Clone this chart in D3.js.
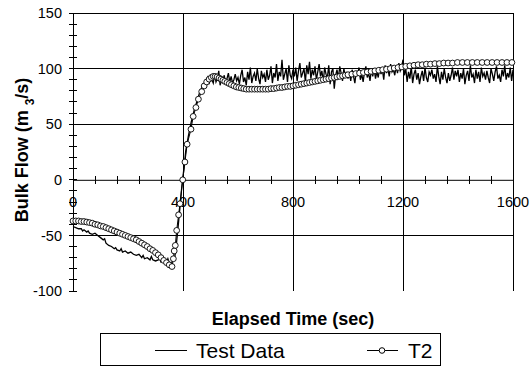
<!DOCTYPE html>
<html><head><meta charset="utf-8">
<script src="https://cdn.jsdelivr.net/npm/d3@7"></script>
<style>body{margin:0;background:#fff}svg{display:block}text{font-family:Arial,"Liberation Sans",sans-serif}</style>
</head><body><div id="chart"></div>
<script>
// ---- data ----
const xTicks = [0, 400, 800, 1200, 1600];
const yTicks = [-100, -50, 0, 50, 100, 150];
const seriesNames = ["Test Data", "T2"];

// Test Data: early part as [time, flow]
const testEarly = [[0,-42],[10,-43],[20,-44],[30,-44],[35,-46],[40,-45],[50,-47],[55,-46],[60,-48],[70,-49],[80,-48],[90,-50],[100,-52],[110,-54],[115,-53],[120,-57],[130,-59],[140,-60],[150,-62],[155,-61],[160,-63],[170,-64],[175,-62],[180,-65],[190,-64],[200,-66],[210,-65],[220,-67],[230,-68],[240,-67],[250,-70],[255,-68],[260,-71],[270,-70],[280,-72],[285,-69],[290,-72],[300,-73],[310,-72],[315,-70],[320,-74],[330,-73],[340,-74],[345,-71],[350,-75],[360,-74],[365,-72],[370,-70],[375,-60],[380,-48],[385,-35],[390,-22],[395,-8],[400,3],[405,14],[410,26],[420,40],[430,52],[440,62],[450,70],[460,78],[470,84],[480,88]];
// Test Data: noisy part, one value every 5 s starting at 485 s
const testNoisyStart = 485, testNoisyStep = 5;
const testNoisy = [
89,92,86,93,90,87,95,88,91,98,85,92,89,94,86,91,96,88,93,87,90,95,89,92,
86,94,99,88,92,85,97,90,101,87,93,96,89,100,91,86,98,92,95,88,
99,90,94,102,87,96,92,104,89,97,93,108,90,95,100,88,103,94,91,99,
93,101,89,98,105,92,96,100,88,103,95,106,91,99,94,102,90,97,104,93,
98,88,101,95,92,103,86,97,100,82,94,99,91,102,96,89,100,93,97,91,
96,89,99,93,87,98,94,101,90,95,88,97,102,92,96,89,99,93,100,91,
97,92,101,95,99,90,103,96,100,93,104,97,99,94,102,96,105,98,101,108,
94,100,88,97,91,102,87,95,99,90,96,86,93,98,89,101,92,88,97,94,
99,91,95,88,102,93,86,97,90,100,92,87,96,89,94,101,90,98,93,99,
88,96,91,100,86,94,98,89,103,92,95,87,99,91,97,88,101,93,96,90,
98,92,87,100,95,89,97,102,91,94,88,99,93,103,90,96,92,101,89,99];

// T2 simulation: [time, flow]
const t2 = [[0,-37],[10,-37],[20,-37],[30,-37.5],[40,-37.5],[50,-38],[60,-38.5],[70,-39],[80,-40],[90,-40.5],[100,-41.5],[110,-42],[120,-43],[130,-44],[140,-45],[150,-46],[160,-47],[170,-48],[180,-49],[190,-50],[200,-51],[210,-52],[220,-53],[230,-54],[240,-55.5],[250,-57],[260,-58.5],[270,-60],[280,-62],[290,-63.5],[300,-65.5],[310,-67.5],[320,-70],[330,-72.5],[340,-74.5],[350,-76.5],[360,-78],
[365,-71],[368,-64],[372,-59],[377,-45.5],[384,-31.5],[389,-21.5],[399,0],[407,16],[415,32],[429,45.5],[437,57],[447,65],[456,72.5],[468,79.3],[477,84.4],[486,88],
[495,90.5],[503,92],[510,93],[517,93],[524,92.5],[531,91.5],[538,90.5],[545,89.5],[552,88.5],[560,87.5],[568,86.5],[576,85.5],[585,84.5],[594,83.5],[603,83],[612,82.5],[621,82],[630,81.5],[640,81.5],[650,81.5],[660,81.5],[670,81.5],[680,81.5],[690,81.5],[700,81.5],[710,81.5],[720,82],[730,82],[740,82.5],[750,83],[760,83],[770,83.5],[780,84],[790,84],[800,84.5],[810,85],[820,85.5],[830,86],[840,86.5],[850,87],[860,87.5],[870,88],[880,88.5],[890,89],[900,89.5],[910,90],[920,90.5],[930,91],[940,91.5],[950,92],[960,92.5],[970,93],[980,93.5],[990,94],[1000,94.5],
[1014,95],[1028,95.5],[1042,96],[1056,96.5],[1070,97],[1084,97.5],[1098,98],[1112,98.5],[1126,99],[1140,99.5],[1154,100],[1168,100.5],[1182,101],[1196,101.5],[1210,102],[1225,102.5],[1240,103],[1255,103.5],[1270,103.5],[1285,104],[1300,104],[1316,104.5],[1332,104.5],[1348,105],[1364,105],[1380,105],[1398,105.5],[1416,105.5],[1434,105.5],[1452,105.5],[1470,105.5],[1488,105.5],[1506,105.5],[1524,105.5],[1542,105.5],[1560,105.5],[1578,105.5],[1596,105.5]];

// ---- chart ----
const W = 532, H = 368;
const svg = d3.select("#chart").append("svg").attr("width", W).attr("height", H);
const x = d3.scaleLinear().domain([0, 1600]).range([73, 513]);
const y = d3.scaleLinear().domain([-100, 150]).range([291, 13]);

const testData = testEarly.concat(testNoisy.map((v, i) => [testNoisyStart + i * testNoisyStep, v]));

// gridlines
const g = svg.append("g").attr("stroke", "#000").attr("stroke-width", 1).attr("shape-rendering", "crispEdges");
yTicks.filter(v => v !== 0 && v !== -100).forEach(v => {
  g.append("line").attr("x1", x(0)).attr("x2", x(1600)).attr("y1", y(v)).attr("y2", y(v));
});
xTicks.filter(v => v !== 0).forEach(v => {
  g.append("line").attr("x1", x(v)).attr("x2", x(v)).attr("y1", y(150)).attr("y2", y(-100));
});

// y axis with minor ticks crossing
const yAxisG = svg.append("g").attr("transform", `translate(${x(0)},0)`)
  .call(d3.axisLeft(y).tickValues(d3.range(-100, 151, 10)).tickSize(0).tickFormat(""));
yAxisG.select(".domain").attr("stroke", "#000");
const yMinor = svg.append("g").attr("stroke", "#000").attr("shape-rendering", "crispEdges");
d3.range(-100, 151, 10).forEach(v => {
  yMinor.append("line").attr("x1", x(0) - 4).attr("x2", x(0) + 4).attr("y1", y(v)).attr("y2", y(v));
});
svg.append("g").selectAll("text").data(yTicks).join("text")
  .attr("x", 62).attr("y", d => y(d)).attr("dy", "0.36em").attr("text-anchor", "end")
  .attr("font-size", 14.5).text(d => d);

// x axis at y = 0
const xAxisG = svg.append("g").attr("transform", `translate(0,${y(0)})`)
  .call(d3.axisBottom(x).tickValues(d3.range(0, 1601, 80)).tickSize(0).tickFormat(""));
xAxisG.select(".domain").attr("stroke", "#000");
const xMinor = svg.append("g").attr("stroke", "#000").attr("shape-rendering", "crispEdges");
d3.range(0, 1601, 80).forEach(v => {
  xMinor.append("line").attr("x1", x(v)).attr("x2", x(v)).attr("y1", y(0) - 4).attr("y2", y(0) + 4);
});
svg.append("g").selectAll("text").data(xTicks).join("text")
  .attr("x", d => x(d)).attr("y", 207).attr("text-anchor", "middle")
  .attr("font-size", 14.5).text(d => d);

// series
const line = d3.line().x(d => x(d[0])).y(d => y(d[1]));
svg.append("path").datum(testData).attr("d", line).attr("fill", "none").attr("stroke", "#000").attr("stroke-width", 1.3);
svg.append("path").datum(t2).attr("d", line).attr("fill", "none").attr("stroke", "#000").attr("stroke-width", 1);
svg.append("g").selectAll("circle").data(t2).join("circle")
  .attr("cx", d => x(d[0])).attr("cy", d => y(d[1])).attr("r", 2.9)
  .attr("fill", "#fff").attr("stroke", "#000").attr("stroke-width", 0.9);

// axis titles
svg.append("text").attr("x", 293).attr("y", 325).attr("text-anchor", "middle")
  .attr("font-size", 18).attr("font-weight", "bold").text("Elapsed Time (sec)");
const yt = svg.append("text").attr("transform", "translate(28,150) rotate(-90)")
  .attr("text-anchor", "middle").attr("font-size", 18).attr("font-weight", "bold");
yt.append("tspan").text("Bulk Flow (m ");
yt.append("tspan").attr("font-size", 12).attr("dy", 6).text("3");
yt.append("tspan").attr("dy", -6).text("/s)");

// legend
const lg = svg.append("g");
lg.append("rect").attr("x", 100.5).attr("y", 333.5).attr("width", 340).attr("height", 32)
  .attr("fill", "#fff").attr("stroke", "#000").attr("stroke-width", 1);
lg.append("line").attr("x1", 155).attr("x2", 187).attr("y1", 350.5).attr("y2", 350.5).attr("stroke", "#000");
lg.append("text").attr("x", 196).attr("y", 357.5).attr("font-size", 21).text(seriesNames[0]);
lg.append("line").attr("x1", 367).attr("x2", 398).attr("y1", 350.5).attr("y2", 350.5).attr("stroke", "#000");
lg.append("circle").attr("cx", 382).attr("cy", 350.5).attr("r", 2.8).attr("fill", "#fff").attr("stroke", "#000");
lg.append("text").attr("x", 408).attr("y", 357.5).attr("font-size", 21).text(seriesNames[1]);
</script></body></html>
